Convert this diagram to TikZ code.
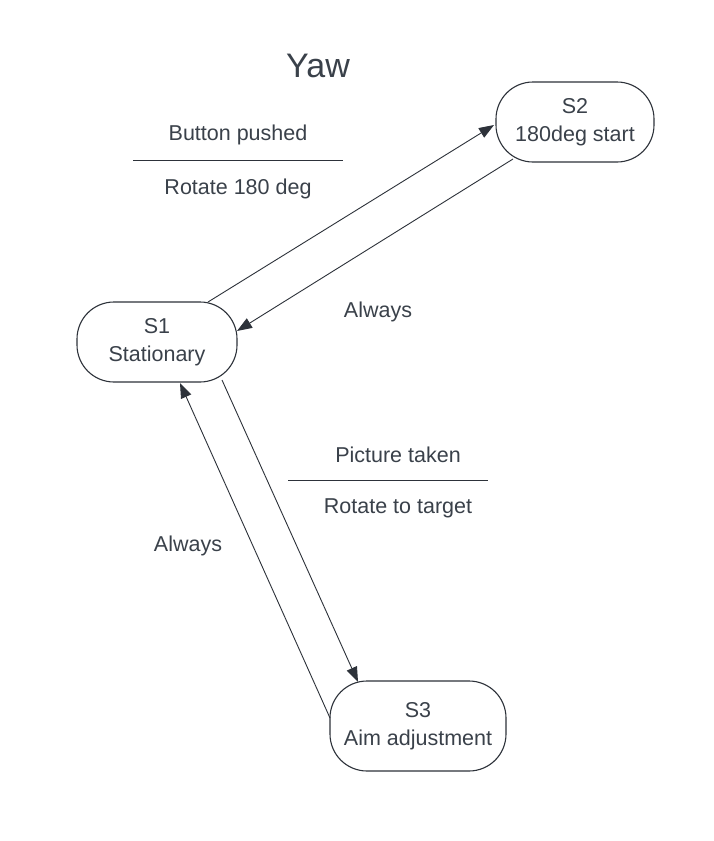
\documentclass[tikz,border=0pt]{standalone}
\usepackage{fontspec}
\setmainfont{Liberation Sans}
\usetikzlibrary{arrows.meta}
\definecolor{ink}{RGB}{58,65,74}
\definecolor{edge}{RGB}{45,50,58}
\tikzset{
  state/.style={draw=edge, line width=1.1pt, rounded corners=37pt, fill=white,
    align=center, text=ink, inner sep=0pt,
    font=\fontsize{21.5}{28}\selectfont},
  conn/.style={draw=edge, line width=0.9pt, -{Triangle[length=15pt,width=11pt]}},
  lbl/.style={text=ink, font=\fontsize{21.5}{26}\selectfont, inner sep=0pt},
  bar/.style={draw=edge, line width=0.9pt}
}
\begin{document}
\begin{tikzpicture}[x=1pt,y=-1pt]
\useasboundingbox[fill=white] (0,0) rectangle (713,841);
\node[lbl, font=\fontsize{34}{40}\selectfont] (title) at (318,66) {Yaw};
\node[state, minimum width=160pt, minimum height=80pt] (s1) at (157,342) {S1\\Stationary};
\node[state, minimum width=158pt, minimum height=80pt] (s2) at (575,122) {S2\\180deg start};
\node[state, minimum width=176pt, minimum height=90pt] (s3) at (418,726) {S3\\Aim adjustment};

\node[lbl] (l1a) at (238,135) {Button pushed};
\coordinate (b1l) at (133,160);
\coordinate (b1r) at (343,160);
\draw[bar] (b1l) -- (b1r);
\node[lbl] (l1b) at (238,189) {Rotate 180 deg};

\node[lbl] (l2) at (378,312) {Always};

\node[lbl] (l3a) at (398,455) {Picture taken};
\coordinate (b3l) at (288,480);
\coordinate (b3r) at (488,480);
\draw[bar] (b3l) -- (b3r);
\node[lbl] (l3b) at (398,508) {Rotate to target};

\node[lbl] (l4) at (188,546) {Always};

\draw[conn] ([shift={(51,-40)}]s1.center) -- ([shift={(-81,3)}]s2.center);
\draw[conn] ([shift={(-62,37)}]s2.center) -- ([shift={(80,-11)}]s1.center);
\draw[conn] ([shift={(65,38)}]s1.center) -- ([shift={(-60,-44)}]s3.center);
\draw[conn] ([shift={(-88,-8)}]s3.center) -- ([shift={(23,41)}]s1.center);
\end{tikzpicture}
\end{document}
